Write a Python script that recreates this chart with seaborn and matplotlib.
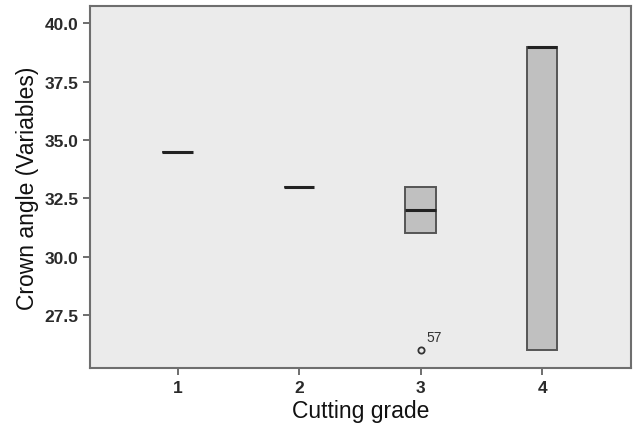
import matplotlib
matplotlib.use("Agg")
import matplotlib.pyplot as plt
import seaborn as sns
import pandas as pd

grade_1 = [34.5]
grade_2 = [33.0]
grade_3 = [26.0, 31.0, 31.0, 32.0, 33.0, 33.0, 33.0]
grade_4 = [26.0, 26.0, 39.0, 39.0, 39.0]
grade_labels = ["1", "2", "3", "4"]
outlier_label = "57"
outlier_grade = "3"
outlier_value = 26.0
y_ticks = [27.5, 30.0, 32.5, 35.0, 37.5, 40.0]

groups = [grade_1, grade_2, grade_3, grade_4]
df = pd.DataFrame({
    "grade": [g for g, vals in zip(grade_labels, groups) for _ in vals],
    "angle": [v for vals in groups for v in vals],
})

sns.set_theme(style="white")
plt.rcParams["font.family"] = ["Liberation Sans", "DejaVu Sans"]

fig = plt.figure(figsize=(6.35, 4.27), dpi=100)
ax = fig.add_axes([90 / 635, (427 - 369) / 427, (631 - 90) / 635, (369 - 7) / 427])
ax.set_facecolor("#ebebeb")

sns.boxplot(
    data=df, x="grade", y="angle", order=grade_labels, ax=ax,
    color="#c0c0c0", width=0.25, whis=1.5, saturation=1,
    linewidth=1.4, linecolor="#555555",
    medianprops=dict(color="#222222", linewidth=2.2),
    whiskerprops=dict(color="#555555"),
    capprops=dict(color="#555555", linewidth=0),
    flierprops=dict(marker="o", markersize=4.5, markerfacecolor="none",
                    markeredgecolor="#333333", markeredgewidth=1.3),
)

xi = grade_labels.index(outlier_grade)
ax.annotate(outlier_label, xy=(xi, outlier_value), xytext=(4, 6),
            textcoords="offset points", fontsize=10, color="#333333")

ax.set_xlim(-0.72, 3.73)
ax.set_ylim(25.22, 40.75)
ax.set_yticks(y_ticks)
ax.set_yticklabels([f"{t:.1f}" for t in y_ticks])
ax.set_xlabel("Cutting grade", fontsize=16.5, color="#111111", labelpad=3)
ax.set_ylabel("Crown angle (Variables)", fontsize=16.5, color="#111111", labelpad=4)

for s in ax.spines.values():
    s.set_color("#6e6e6e")
    s.set_linewidth(1.5)
ax.tick_params(axis="both", which="major", length=5, width=1.2, color="#555555",
               labelsize=12.5, labelcolor="#2a2a2a", direction="out",
               bottom=True, left=True)
for lbl in ax.get_xticklabels() + ax.get_yticklabels():
    lbl.set_fontweight("bold")

fig.savefig("out.png", dpi=100)
